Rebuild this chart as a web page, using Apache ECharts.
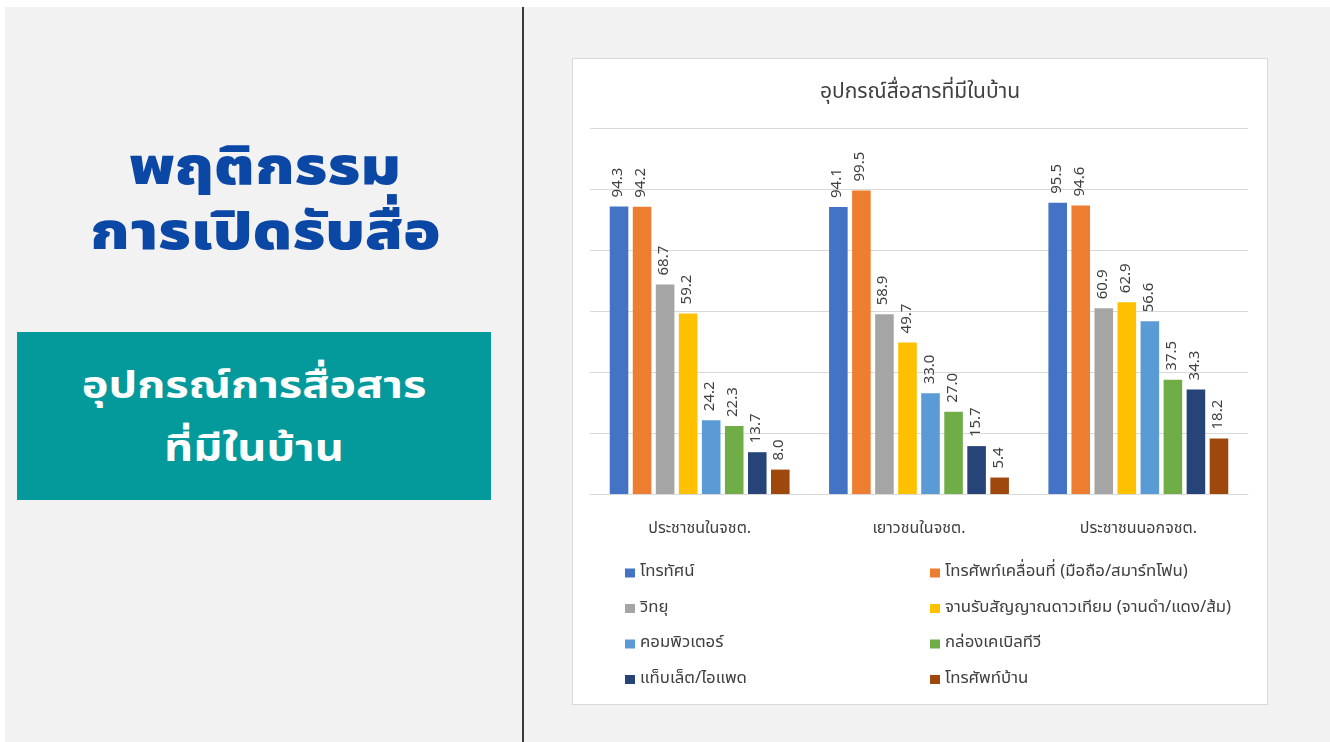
<!DOCTYPE html>
<html>
<head>
<meta charset="utf-8">
<script src="https://cdn.jsdelivr.net/npm/echarts@6/dist/echarts.min.js"></script>
<style>
  html, body { margin: 0; padding: 0; }
  body {
    width: 1330px; height: 742px; position: relative; overflow: hidden;
    background: #f2f2f2;
    font-family: "Noto Sans Thai", "Noto Sans", "DejaVu Sans", sans-serif;
  }
  .edge-top { position: absolute; left: 0; top: 0; width: 1330px; height: 7px; background: #fff; }
  .edge-left { position: absolute; left: 0; top: 0; width: 5px; height: 742px; background: #fff; }
  .divider { position: absolute; left: 522px; top: 7px; width: 2px; height: 735px; background: #3a3a3a; }
  .headline {
    position: absolute; left: 15px; width: 500px; text-align: center;
    color: #0b47a5; font-weight: 900; font-size: 52px; line-height: 65px;
    top: 136px; transform: scaleX(1.18); transform-origin: 250px 0;
  }
  .box {
    position: absolute; left: 17px; top: 332px; width: 474px; height: 168px;
    background: #049a9b;
  }
  .box-text {
    position: absolute; left: 0; top: 24px; width: 474px;
    color: #fff; font-weight: bold; font-size: 37px;
    line-height: 63px; text-align: center;
    transform: scaleX(1.22); transform-origin: 237px 0;
  }
  .card {
    position: absolute; left: 572px; top: 58px; width: 696px; height: 647px;
    background: #fff; border: 1px solid #d9d9d9; box-sizing: border-box;
  }
  #chart { position: absolute; left: 0; top: 0; width: 694px; height: 645px; }
</style>
</head>
<body>
<div class="edge-top"></div>
<div class="edge-left"></div>
<div class="divider"></div>
<div class="headline">พฤติกรรม<br>การเปิดรับสื่อ</div>
<div class="box"><div class="box-text">อุปกรณ์การสื่อสาร<br>ที่มีในบ้าน</div></div>
<div class="card"><div id="chart"></div></div>
<script>
// กลุ่มประชากร
const groups = ['ประชาชนในจชต.', 'เยาวชนในจชต.', 'ประชาชนนอกจชต.']

// อุปกรณ์ (ลำดับตามกราฟ)
const devices = [
  'โทรทัศน์',
  'โทรศัพท์เคลื่อนที่ (มือถือ/สมาร์ทโฟน)',
  'วิทยุ',
  'จานรับสัญญาณดาวเทียม (จานดำ/แดง/ส้ม)',
  'คอมพิวเตอร์',
  'กล่องเคเบิลทีวี',
  'แท็บเล็ต/ไอแพด',
  'โทรศัพท์บ้าน'
]

const colors = ['#4472c4', '#ed7d31', '#a5a5a5', '#ffc000', '#5b9bd5', '#70ad47', '#264478', '#9e480e']

// ร้อยละ ต่อกลุ่ม
const tv        = [94.3, 94.1, 95.5]
const mobile    = [94.2, 99.5, 94.6]
const radio     = [68.7, 58.9, 60.9]
const satellite = [59.2, 49.7, 62.9]
const computer  = [24.2, 33.0, 56.6]
const cable     = [22.3, 27.0, 37.5]
const tablet    = [13.7, 15.7, 34.3]
const homePhone = [8.0, 5.4, 18.2]

const values = [tv, mobile, radio, satellite, computer, cable, tablet, homePhone]

const FONT = '"Noto Sans Thai", "Noto Sans", "DejaVu Sans", sans-serif'
const TEXT = '#404040'

const chart = echarts.init(document.getElementById('chart'))

const series = devices.map((name, i) => ({
  name,
  type: 'bar',
  data: values[i],
  barGap: '24%',
  barCategoryGap: '18%',
  itemStyle: { color: colors[i] },
  label: {
    show: true,
    position: 'top',
    rotate: 90,
    align: 'left',
    verticalAlign: 'middle',
    distance: 9,
    color: TEXT,
    fontSize: 15,
    fontFamily: FONT,
    formatter: p => p.value.toFixed(1)
  }
}))

const legendBase = {
  orient: 'vertical',
  icon: 'rect',
  itemWidth: 10,
  itemHeight: 9,
  itemGap: 15.5,
  textStyle: { color: TEXT, fontSize: 16.8, fontFamily: FONT, lineHeight: 20 },
  selectedMode: false
}

chart.setOption({
  animation: false,
  textStyle: { fontFamily: FONT },
  title: {
    text: 'อุปกรณ์สื่อสารที่มีในบ้าน',
    left: 'center',
    top: 19,
    textStyle: { color: TEXT, fontSize: 21, fontWeight: 'normal', fontFamily: FONT }
  },
  legend: [
    Object.assign({ left: 47, top: 499, data: [devices[0], devices[2], devices[4], devices[6]] }, legendBase),
    Object.assign({ left: 352, top: 499, data: [devices[1], devices[3], devices[5], devices[7]] }, legendBase)
  ],
  grid: { left: 17, top: 69, width: 658, height: 366, containLabel: false },
  xAxis: {
    type: 'category',
    data: groups,
    axisTick: { show: false },
    axisLine: { lineStyle: { color: '#d9d9d9' } },
    axisLabel: { color: TEXT, fontSize: 16, margin: 28, fontFamily: FONT }
  },
  yAxis: {
    type: 'value',
    min: 0,
    max: 120,
    interval: 20,
    axisLabel: { show: false },
    axisLine: { show: false },
    axisTick: { show: false },
    splitLine: { lineStyle: { color: '#d9d9d9' } }
  },
  series
})
</script>
</body>
</html>
